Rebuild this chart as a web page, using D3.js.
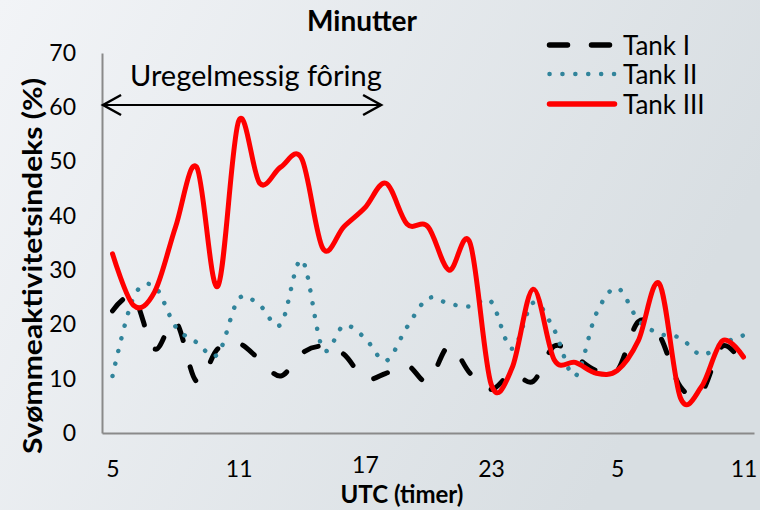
<!DOCTYPE html>
<html><head><meta charset="utf-8">
<script src="https://cdn.jsdelivr.net/npm/d3@7"></script>
<style>body{margin:0;background:#fff;} svg{display:block;}</style>
</head><body>
<svg id="chart" width="760" height="510"></svg>
<script>
// ---- data ----
const hours = [5,6,7,8,9,10,11,12,13,14,15,16,17,18,19,20,21,22,23,0,1,2,3,4,5,6,7,8,9,10,11];
const tankI   = [22.5,25,15.5,20.5,9.5,15.5,16.5,13.5,10.5,14.7,16,14.5,10,11,12.5,9.5,16,11,8,11,9.5,16,14,11.5,11.5,20.5,18,8.5,7.5,16,12.5];
const tankII  = [10.5,25,27,19.6,16.7,14.5,24.7,23.5,20,31.9,15.5,19.8,17.5,13.3,19.5,24.8,23.8,23.3,24.2,15.5,24,19,10.5,22,26.7,20.8,18.3,17.5,14.4,16.5,18];
const tankIII = [33,23.5,26,38,49,27,57.5,46,49,50.5,34,38,41.5,46,38.5,38,30,35,9,12,26.5,13.5,13,11,11.5,17,27.5,6.5,8.5,17,14];
const seriesNames = ["Tank I","Tank II","Tank III"];
const yTicks = [0,10,20,30,40,50,60,70];
const xLabelEvery = 6;
const titleText = "Minutter";
const xTitle = "UTC (timer)";
const yTitle = "Svømmeaktivitetsindeks (%)";
const noteText = "Uregelmessig fôring";
const noteFrom = -0.45, noteTo = 12.77; // category positions spanned by the arrow

// ---- setup ----
const FONT = "Lato, 'Liberation Sans', sans-serif";
const svg = d3.select("#chart");
const defs = svg.append("defs");
const grad = defs.append("linearGradient").attr("id","bg")
  .attr("x1","0").attr("y1","0").attr("x2","1").attr("y2","0.35");
grad.append("stop").attr("offset","0").attr("stop-color","#F2F4F7");
grad.append("stop").attr("offset","1").attr("stop-color","#D8DEE2");
svg.append("rect").attr("width",760).attr("height",510).attr("fill","url(#bg)");

const x = d3.scalePoint().domain(d3.range(hours.length)).range([102,754]).padding(0.5);
const xPos = v => x(0) + v * x.step();
const y = d3.scaleLinear().domain([0,70]).range([433,53]);

// axes
const gy = svg.append("g").attr("transform","translate(102,0)")
  .call(d3.axisLeft(y).tickValues(yTicks).tickSize(0).tickPadding(26).tickSizeOuter(0));
const gx = svg.append("g").attr("transform","translate(0,433)")
  .call(d3.axisBottom(x).tickValues(d3.range(hours.length).filter(i=>i%xLabelEvery===0))
    .tickFormat(i=>hours[i]).tickSize(0).tickPadding(28).tickSizeOuter(0));
[gx,gy].forEach(g=>{
  g.select(".domain").attr("stroke","#8A8A8A").attr("stroke-width",2);
  g.selectAll("text").attr("font-family",FONT).attr("font-size",23).attr("fill","#000");
});
// the middle label sits slightly higher in the original, clear of the axis title
gx.selectAll(".tick").filter(i=>i===12).select("text").attr("y",24);

// series
const line = d3.line().x((d,i)=>x(i)).y(d=>y(d)).curve(d3.curveCatmullRom.alpha(0));
const styles = [
  {data:tankI, color:"#000", w:5, dash:"15,27"},
  {data:tankII, color:"#31849B", w:4.5, dash:"0.1,12.8"},
  {data:tankIII, color:"#FF0000", w:5, dash:null}
];
styles.forEach(s=>{
  svg.append("path").datum(s.data).attr("d",line).attr("fill","none")
    .attr("stroke",s.color).attr("stroke-width",s.w).attr("stroke-linecap","round")
    .attr("stroke-linejoin","round").attr("stroke-dasharray",s.dash);
});

// legend
const legDash = ["18,24","0.1,12.8",null];
seriesNames.forEach((n,k)=>{
  const ly = [45,74,104][k];
  svg.append("line").attr("x1",549.5).attr("x2",614.5).attr("y1",ly).attr("y2",ly)
    .attr("stroke",styles[k].color).attr("stroke-width",k===1?4.5:5.5)
    .attr("stroke-linecap","round").attr("stroke-dasharray",legDash[k]);
  svg.append("text").attr("x",623).attr("y",ly+10).text(n)
    .attr("font-family",FONT).attr("font-size",26).attr("fill","#000");
});

// titles
svg.append("text").attr("x",362).attr("y",31).attr("text-anchor","middle")
  .attr("font-family",FONT).attr("font-weight","bold").attr("font-size",28).text(titleText);
svg.append("text").attr("x",402).attr("y",503).attr("text-anchor","middle")
  .attr("font-family",FONT).attr("font-weight","bold").attr("font-size",24).text(xTitle);
svg.append("text").attr("transform","translate(42,266) rotate(-90)").attr("text-anchor","middle")
  .attr("font-family",FONT).attr("font-weight","bold").attr("font-size",27)
  .attr("textLength",376).attr("lengthAdjust","spacingAndGlyphs").text(yTitle);

// annotation arrow
const ax1 = xPos(noteFrom), ax2 = xPos(noteTo), ay = 105;
svg.append("line").attr("x1",ax1).attr("x2",ax2).attr("y1",ay).attr("y2",ay)
  .attr("stroke","#000").attr("stroke-width",2);
svg.append("path").attr("d",`M${ax1+18},${ay-10}L${ax1},${ay}L${ax1+18},${ay+10}`)
  .attr("fill","none").attr("stroke","#000").attr("stroke-width",2.5);
svg.append("path").attr("d",`M${ax2-18},${ay-10}L${ax2},${ay}L${ax2-18},${ay+10}`)
  .attr("fill","none").attr("stroke","#000").attr("stroke-width",2.5);
svg.append("text").attr("x",130).attr("y",86).attr("font-family",FONT)
  .attr("font-size",29).attr("fill","#000").text(noteText);
</script>
</body></html>
